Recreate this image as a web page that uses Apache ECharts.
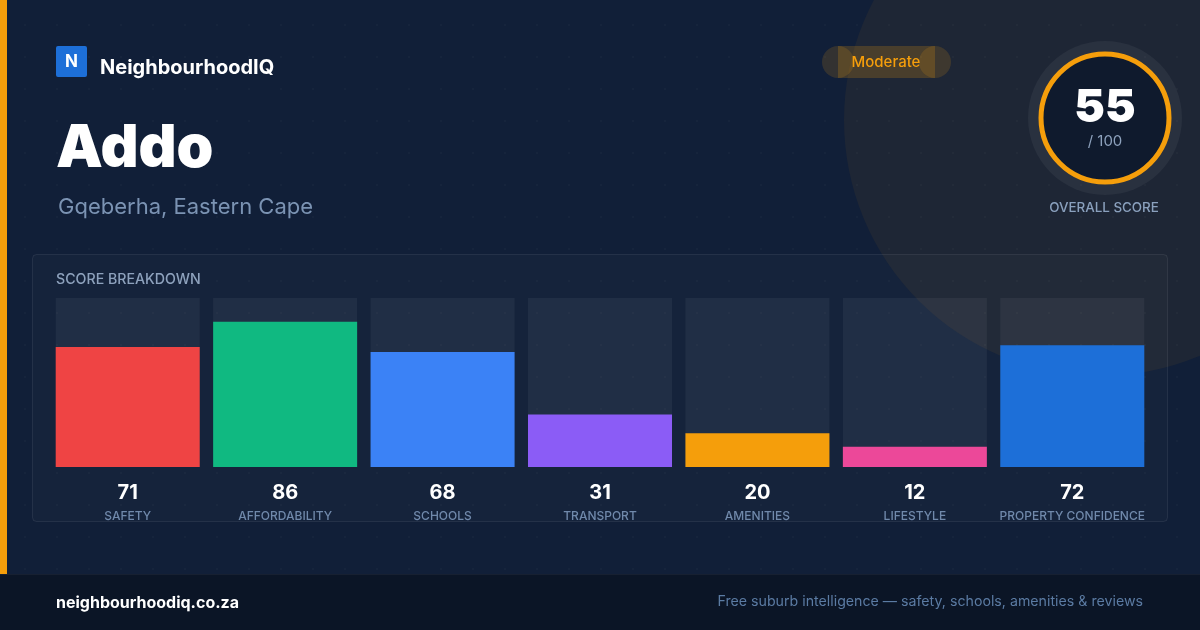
<!DOCTYPE html>
<html>
<head>
<meta charset="utf-8">
<script src="https://cdn.jsdelivr.net/npm/echarts@6/dist/echarts.min.js"></script>
<style>
html,body{margin:0;padding:0;background:#111f38;}
#chart{width:1200px;height:630px;}
</style>
</head>
<body>
<div id="chart"></div>
<script>
// ---- data ----
const categories = ['SAFETY', 'AFFORDABILITY', 'SCHOOLS', 'TRANSPORT', 'AMENITIES', 'LIFESTYLE', 'PROPERTY CONFIDENCE'];
const scores = [71, 86, 68, 31, 20, 12, 72];
const barColors = ['#ef4444', '#10b981', '#3b82f6', '#8b5cf6', '#f59e0b', '#ec4899', '#1d6fd8'];
const overallScore = 55;
const overallMax = 100;
const ratingLabel = 'Moderate';
const suburb = 'Addo';
const region = 'Gqeberha, Eastern Cape';
const brand = 'NeighbourhoodIQ';
const site = 'neighbourhoodiq.co.za';
const tagline = 'Free suburb intelligence — safety, schools, amenities & reviews';

const FONT = 'Inter, "Noto Sans", sans-serif';
const chart = echarts.init(document.getElementById('chart'), null, {renderer: 'canvas'});

const gfx = [];
// dot grid
for (let x = 25; x < 1200; x += 32) {
  for (let y = 25; y < 574; y += 32) {
    gfx.push({type: 'circle', silent: true, z: -5, shape: {cx: x, cy: y, r: 1}, style: {fill: 'rgba(255,255,255,0.035)'}});
  }
}
// big decorative circle
gfx.push({type: 'circle', z: -8, silent: true, shape: {cx: 1100, cy: 120, r: 256}, style: {fill: 'rgba(245,158,11,0.06)'}});
// left accent bar
gfx.push({type: 'rect', z: 5, shape: {x: 0, y: 0, width: 7, height: 574}, style: {fill: '#f59e0b'}});
// footer
gfx.push({type: 'rect', z: 5, shape: {x: 0, y: 574, width: 1200, height: 56}, style: {fill: '#0b1526'}});
gfx.push({type: 'rect', z: 5, shape: {x: 0, y: 574, width: 1200, height: 1}, style: {fill: 'rgba(255,255,255,0.05)'}});
gfx.push({type: 'text', z: 6, style: {x: 56, y: 603, text: site, fill: '#ffffff', font: 'bold 16px ' + FONT, textVerticalAlign: 'middle'}});
gfx.push({type: 'text', z: 6, style: {x: 1143, y: 602, text: tagline, fill: '#5b7ba3', font: '14.2px ' + FONT, textAlign: 'right', textVerticalAlign: 'middle'}});
// logo
gfx.push({type: 'rect', z: 5, shape: {x: 56, y: 46, width: 31, height: 31, r: 2}, style: {fill: '#1d6fd8'}});
gfx.push({type: 'text', z: 6, style: {x: 71.5, y: 62, text: 'N', fill: '#ffffff', font: 'bold 17px ' + FONT, textAlign: 'center', textVerticalAlign: 'middle'}});
gfx.push({type: 'text', z: 6, style: {x: 100, y: 68, text: brand, fill: '#ffffff', font: 'bold 20px ' + FONT, textVerticalAlign: 'middle'}});
// title
gfx.push({type: 'text', z: 6, style: {x: 56, y: 149, text: suburb, fill: '#ffffff', font: '900 59px ' + FONT, textVerticalAlign: 'middle'}});
gfx.push({type: 'text', z: 6, style: {x: 58, y: 207, text: region, fill: '#7b93b3', font: '22px ' + FONT, textVerticalAlign: 'middle'}});
// badge
gfx.push({type: 'circle', z: 3, shape: {cx: 838, cy: 62, r: 16}, style: {fill: 'rgba(245,158,11,0.15)'}});
gfx.push({type: 'circle', z: 3, shape: {cx: 935, cy: 62, r: 16}, style: {fill: 'rgba(245,158,11,0.15)'}});
gfx.push({type: 'rect', z: 3, shape: {x: 838, y: 46, width: 97, height: 32}, style: {fill: 'rgba(245,158,11,0.2)'}});
gfx.push({type: 'text', z: 6, style: {x: 886, y: 62, text: ratingLabel, fill: '#f59e0b', font: '500 15px ' + FONT, textAlign: 'center', textVerticalAlign: 'middle'}});
// overall score ring
gfx.push({type: 'circle', z: 3, shape: {cx: 1105, cy: 118, r: 77}, style: {fill: 'rgba(255,255,255,0.05)'}});
gfx.push({type: 'circle', z: 4, shape: {cx: 1105, cy: 118, r: 64}, style: {fill: '#0f1a2d', stroke: '#f59e0b', lineWidth: 5}});
gfx.push({type: 'text', z: 6, style: {x: 1105, y: 108, text: String(overallScore), fill: '#ffffff', font: '900 46px ' + FONT, textAlign: 'center', textVerticalAlign: 'middle'}});
gfx.push({type: 'text', z: 6, style: {x: 1105, y: 141, text: '/ ' + overallMax, fill: '#8ea2bd', font: '15px ' + FONT, textAlign: 'center', textVerticalAlign: 'middle'}});
gfx.push({type: 'text', z: 6, style: {x: 1104, y: 208, text: 'OVERALL SCORE', fill: '#8aa0bd', font: '500 13.4px ' + FONT, textAlign: 'center', textVerticalAlign: 'middle'}});
// panel
gfx.push({type: 'rect', z: -2, shape: {x: 32.5, y: 254.5, width: 1135, height: 267, r: 4}, style: {fill: 'rgba(255,255,255,0.02)', stroke: 'rgba(255,255,255,0.08)', lineWidth: 1}});
gfx.push({type: 'text', z: 6, style: {x: 56, y: 280, text: 'SCORE BREAKDOWN', fill: '#8ea2bd', font: '500 14.2px ' + FONT, textVerticalAlign: 'middle'}});

const option = {
  backgroundColor: '#111f38',
  animation: false,
  graphic: {elements: gfx},
  grid: {left: 49, right: 49, top: 298, bottom: 163, containLabel: false},
  xAxis: {
    type: 'category',
    data: categories,
    axisLine: {show: false},
    axisTick: {show: false},
    axisLabel: {
      interval: 0,
      margin: 14,
      formatter: function (v, i) { return '{v|' + scores[i] + '}\n{n|' + v + '}'; },
      rich: {
        v: {fontFamily: FONT, fontSize: 20, fontWeight: 'bold', color: '#ffffff', lineHeight: 24, align: 'center'},
        n: {fontFamily: FONT, fontSize: 12, fontWeight: 500, color: '#7089ab', lineHeight: 22, align: 'center'}
      }
    }
  },
  yAxis: {type: 'value', min: 0, max: 100, show: false, splitLine: {show: false}},
  series: [{
    type: 'bar',
    barWidth: 144,
    data: scores.map((s, i) => ({value: s, itemStyle: {color: barColors[i]}})),
    showBackground: true,
    backgroundStyle: {color: 'rgba(255,255,255,0.05)'},
    z: 2
  }]
};
chart.setOption(option);
</script>
</body>
</html>
